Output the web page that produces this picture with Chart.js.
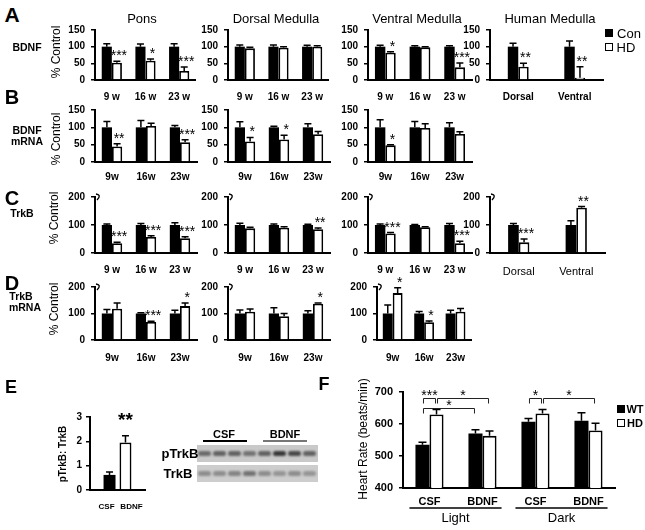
<!DOCTYPE html>
<html><head><meta charset="utf-8">
<script src="https://cdn.jsdelivr.net/npm/chart.js@4"></script>
<style>
html,body{margin:0;padding:0;background:#fff;}
body{width:645px;height:530px;position:relative;overflow:hidden;font-family:"Liberation Sans",Arial,sans-serif;}
.t{position:absolute;white-space:nowrap;color:#000;line-height:1;}
canvas{position:absolute;}
.sq{position:absolute;box-sizing:border-box;border:1.5px solid #000;}
</style></head><body>
<script>
// ---------- DATA ----------
const weeksSp = ['9 w','16 w','23 w'];
const weeksNs = ['9w','16w','23w'];
const humanRegions = ['Dorsal','Ventral'];
const seriesNames = ['Con','HD'];

// A: BDNF protein (% control)
const aPonsCon=[100,100,100], aPonsConErr=[9,8,9], aPonsHd=[52,58,27], aPonsHdErr=[4,5,12], aPonsSig=['***','*','***'];
const aDorsCon=[100,100,100], aDorsConErr=[5,5,4], aDorsHd=[95,97,100], aDorsHdErr=[3,3,3], aDorsSig=['','',''];
const aVentCon=[100,100,100], aVentConErr=[4,3,3], aVentHd=[82,98,38], aVentHdErr=[3,2,13], aVentSig=['*','','***'];
const aHumCon=[100,100], aHumConErr=[10,17], aHumHd=[40,7], aHumHdErr=[10,33], aHumSig=['**','**'];
// B: BDNF mRNA
const bPonsCon=[100,100,100], bPonsConErr=[17,20,5], bPonsHd=[45,104,57], bPonsHdErr=[8,8,7], bPonsSig=['**','','***'];
const bDorsCon=[100,100,100], bDorsConErr=[16,3,10], bDorsHd=[59,65,80], bDorsHdErr=[12,12,8], bDorsSig=['*','*',''];
const bVentCon=[100,100,100], bVentConErr=[22,17,13], bVentHd=[48,98,81], bVentHdErr=[2,12,6], bVentSig=['*','',''];
// C: TrkB protein
const cPonsCon=[100,100,100], cPonsConErr=[4,5,8], cPonsHd=[35,57,53], cPonsHdErr=[3,5,5], cPonsSig=['***','***','***'];
const cDorsCon=[100,100,100], cDorsConErr=[6,4,3], cDorsHd=[88,90,85], cDorsHdErr=[4,4,4], cDorsSig=['','','**'];
const cVentCon=[100,100,100], cVentConErr=[4,2,5], cVentHd=[70,92,35], cVentHdErr=[3,2,7], cVentSig=['***','','***'];
const cHumCon=[100,100], cHumConErr=[5,15], cHumHd=[38,162], cHumHdErr=[12,4], cHumSig=['***','**'];
// D: TrkB mRNA
const dPonsCon=[100,100,100], dPonsConErr=[15,3,12], dPonsHd=[118,68,128], dPonsHdErr=[22,3,12], dPonsSig=['','***','*'];
const dDorsCon=[100,100,100], dDorsConErr=[13,22,10], dDorsHd=[107,90,137], dDorsHdErr=[10,10,3], dDorsSig=['','','*'];
const dVentCon=[100,100,100], dVentConErr=[32,8,12], dVentHd=[177,67,107], dVentHdErr=[20,5,12], dVentSig=['*','*',''];
// E: pTrkB:TrkB ratio
const eGroups=['CSF','BDNF'];
const eRatio=[0.62,1.95], eRatioErr=[0.12,0.28], eSig=['','**'];
// Blot band intensities (0..1) per lane
const blotP=[0.55,0.6,0.6,0.5,0.6,0.85,0.75,0.6];
const blotT=[0.35,0.35,0.4,0.5,0.35,0.3,0.35,0.3];
// F: heart rate
const fConds=['CSF','BDNF','CSF','BDNF'];
const fPhases=['Light','Dark'];
const fGroups=['WT','HD'];
const fWT=[535,570,607,610], fWTErr=[8,12,10,25];
const fHD=[630,563,633,580], fHDErr=[15,15,12,22];
const fBrackets=[
  {a:[0,0], b:[0,1], level:681, text:'***'},
  {a:[0,1], b:[1,1], level:681, text:'*'},
  {a:[0,0], b:[1,0], level:650, text:'*'},
  {a:[2,0], b:[2,1], level:681, text:'*'},
  {a:[2,1], b:[3,1], level:681, text:'*'}
];

// ---------- HELPERS ----------
const FF='"Liberation Sans", Arial, sans-serif';
Chart.defaults.font.family=FF;
Chart.defaults.color='#000';

function txt(s,x,y,css,rot){
  const d=document.createElement('div');
  d.className='t'; d.textContent=s;
  d.style.left=x+'px'; d.style.top=y+'px';
  d.style.transform='translate(-50%,-50%)'+(rot?' rotate(-90deg)':'');
  d.style.cssText+=css||'';
  document.body.appendChild(d);
}
function sq(x,y,fill){
  const d=document.createElement('div'); d.className='sq';
  d.style.left=x+'px'; d.style.top=y+'px'; d.style.width='8px'; d.style.height='8px';
  d.style.background=fill; document.body.appendChild(d);
}

const errPlugin={
  id:'errbars',
  afterDatasetsDraw(chart,args,o){
    const ctx=chart.ctx, ys=chart.scales.y, ca=chart.chartArea;
    ctx.save();
    ctx.strokeStyle='#000'; ctx.lineWidth=o.lw||1.5;
    chart.data.datasets.forEach((ds,di)=>{
      const meta=chart.getDatasetMeta(di);
      meta.data.forEach((bar,i)=>{
        const v=ds.data[i], e=ds.err[i];
        const y0=ys.getPixelForValue(v), y1=ys.getPixelForValue(v+e);
        const cw=o.cap||3.5;
        ctx.beginPath();
        ctx.moveTo(bar.x,y0); ctx.lineTo(bar.x,y1);
        ctx.moveTo(bar.x-cw,y1); ctx.lineTo(bar.x+cw,y1);
        ctx.stroke();
      });
    });
    // significance stars over HD bars
    if(o.stars){
      const di=o.starDs===undefined?1:o.starDs;
      const meta=chart.getDatasetMeta(di), ds=chart.data.datasets[di];
      ctx.fillStyle='#000'; ctx.font=(o.starFont||'14px '+FF);
      ctx.textAlign='center'; ctx.textBaseline='alphabetic';
      o.stars.forEach((s,i)=>{
        if(!s) return;
        let bar, v, e;
        if(o.starPerDataset){ const m=chart.getDatasetMeta(i); bar=m.data[0]; v=chart.data.datasets[i].data[0]; e=chart.data.datasets[i].err[0]; }
        else { bar=meta.data[i]; v=ds.data[i]; e=ds.err[i]; }
        const y=ys.getPixelForValue(v+e);
        ctx.fillText(s,bar.x+(o.starDx===undefined?2:o.starDx),y-1+(o.starDy||0));
      });
    }
    if(o.yBreak){
      ctx.lineWidth=1.3;
      ctx.beginPath();
      ctx.moveTo(ca.left+1,ca.top-3);
      ctx.quadraticCurveTo(ca.left+7,ca.top-2,ca.left+2,ca.top+3);
      ctx.stroke();
    }
    if(o.catLabels){
      ctx.fillStyle='#000'; ctx.font=o.catFont; ctx.textAlign='center'; ctx.textBaseline='middle';
      o.catLabels.forEach((s,i)=>{
        const bar=chart.getDatasetMeta(i).data[0];
        ctx.fillText(s,bar.x+(o.catDx?o.catDx[i]:0),ca.bottom+o.catDy);
      });
    }
    ctx.restore();
  }
};

function makeCanvas(rect,pad){
  const [l,t,r,b]=rect;
  const cv=document.createElement('canvas');
  cv.width=r-l+pad.l+pad.r; cv.height=b-t+pad.t+pad.b;
  cv.style.left=(l-pad.l)+'px'; cv.style.top=(t-pad.t)+'px';
  document.body.appendChild(cv);
  return cv;
}

function barPanel(o){
  const pad={l:40,r:6,t:14,b:30};
  const cv=makeCanvas(o.rect,pad);
  new Chart(cv,{
    type:'bar',
    data:{labels:o.labels,datasets:[
      {label:seriesNames[0],data:o.con,err:o.conErr,backgroundColor:'#000',borderColor:'#000',borderWidth:0,categoryPercentage:o.cat||0.6,barPercentage:1},
      {label:seriesNames[1],data:o.hd,err:o.hdErr,backgroundColor:'#fff',borderColor:'#000',borderWidth:1.8,categoryPercentage:o.cat||0.6,barPercentage:1}
    ]},
    options:{
      responsive:false,animation:false,
      layout:{padding:{top:pad.t,right:pad.r,left:0,bottom:0}},
      plugins:{legend:{display:false},tooltip:{enabled:false},
        errbars:{stars:o.sig,yBreak:o.yBreak}},
      scales:{
        x:{grid:{display:false,drawTicks:false},border:{display:true,color:'#000',width:2},
           ticks:{color:'#000',font:o.xFont||{size:10,weight:'bold'},padding:o.xPad,maxRotation:0,autoSkip:false},
           afterFit(s){s.height=pad.b;}},
        y:{min:0,max:o.yMax,
           ticks:{stepSize:o.yStep,color:'#000',font:{size:10,weight:'bold'},padding:6},
           grid:{display:true,drawOnChartArea:false,drawTicks:true,tickLength:4,color:'#000',lineWidth:1.5},
           border:{display:true,color:'#000',width:2},
           afterFit(s){s.width=pad.l;}}
      }
    },
    plugins:[errPlugin]
  });
}

// ---------- PANELS A-D ----------
// Row A
barPanel({rect:[95,30,196,80],yMax:150,yStep:50,labels:weeksSp,xPad:11,con:aPonsCon,conErr:aPonsConErr,hd:aPonsHd,hdErr:aPonsHdErr,sig:aPonsSig});
barPanel({rect:[228,30,329,80],yMax:150,yStep:50,labels:weeksSp,xPad:11,con:aDorsCon,conErr:aDorsConErr,hd:aDorsHd,hdErr:aDorsHdErr,sig:aDorsSig});
barPanel({rect:[368,30,472,80],yMax:150,yStep:50,labels:weeksSp,xPad:11,con:aVentCon,conErr:aVentConErr,hd:aVentHd,hdErr:aVentHdErr,sig:aVentSig});
barPanel({rect:[490,30,603,80],yMax:150,yStep:50,labels:humanRegions,xPad:11,cat:0.37,con:aHumCon,conErr:aHumConErr,hd:aHumHd,hdErr:aHumHdErr,sig:aHumSig});
// Row B
barPanel({rect:[95,110,197,162],yMax:150,yStep:50,labels:weeksNs,xPad:9,con:bPonsCon,conErr:bPonsConErr,hd:bPonsHd,hdErr:bPonsHdErr,sig:bPonsSig});
barPanel({rect:[228,110,330,162],yMax:150,yStep:50,labels:weeksNs,xPad:9,con:bDorsCon,conErr:bDorsConErr,hd:bDorsHd,hdErr:bDorsHdErr,sig:bDorsSig});
barPanel({rect:[368,110,472,162],yMax:150,yStep:50,labels:weeksNs,xPad:9,con:bVentCon,conErr:bVentConErr,hd:bVentHd,hdErr:bVentHdErr,sig:bVentSig});
// Row C
barPanel({rect:[95,197,197,253],yMax:200,yStep:100,yBreak:true,labels:weeksSp,xPad:11,con:cPonsCon,conErr:cPonsConErr,hd:cPonsHd,hdErr:cPonsHdErr,sig:cPonsSig});
barPanel({rect:[228,197,330,253],yMax:200,yStep:100,yBreak:true,labels:weeksSp,xPad:11,con:cDorsCon,conErr:cDorsConErr,hd:cDorsHd,hdErr:cDorsHdErr,sig:cDorsSig});
barPanel({rect:[368,197,472,253],yMax:200,yStep:100,yBreak:true,labels:weeksSp,xPad:11,con:cVentCon,conErr:cVentConErr,hd:cVentHd,hdErr:cVentHdErr,sig:cVentSig});
barPanel({rect:[490,197,605,253],yMax:200,yStep:100,yBreak:true,labels:humanRegions,xPad:12,xFont:{size:11},cat:0.37,con:cHumCon,conErr:cHumConErr,hd:cHumHd,hdErr:cHumHdErr,sig:cHumSig});
// Row D
barPanel({rect:[95,287,197,340],yMax:200,yStep:100,yBreak:true,labels:weeksNs,xPad:12,con:dPonsCon,conErr:dPonsConErr,hd:dPonsHd,hdErr:dPonsHdErr,sig:dPonsSig});
barPanel({rect:[228,287,330,340],yMax:200,yStep:100,yBreak:true,labels:weeksNs,xPad:12,con:dDorsCon,conErr:dDorsConErr,hd:dDorsHd,hdErr:dDorsHdErr,sig:dDorsSig});
barPanel({rect:[377,287,472,340],yMax:200,yStep:100,yBreak:true,labels:weeksNs,xPad:12,cat:0.63,con:dVentCon,conErr:dVentConErr,hd:dVentHd,hdErr:dVentHdErr,sig:dVentSig});

// ---------- PANEL E ----------
(function(){
  const pad={l:40,r:6,t:14,b:26};
  const cv=makeCanvas([90,417,145,490],pad);
  new Chart(cv,{
    type:'bar',
    data:{labels:[''],datasets:eGroups.map((g,i)=>({
      label:g,data:[eRatio[i]],err:[eRatioErr[i]],
      backgroundColor:i===0?'#000':'#fff',borderColor:'#000',borderWidth:i===0?0:1.8,
      categoryPercentage:0.58,barPercentage:0.75}))},
    options:{
      responsive:false,animation:false,
      layout:{padding:{top:pad.t,right:pad.r,left:0,bottom:0}},
      plugins:{legend:{display:false},tooltip:{enabled:false},
        errbars:{stars:eSig,starPerDataset:true,starFont:'bold 19px '+FF,starDy:-9,starDx:0,
                 catLabels:eGroups,catFont:'bold 8px '+FF,catDy:17,catDx:[-3,6]}},
      scales:{
        x:{grid:{display:false,drawTicks:false},border:{display:true,color:'#000',width:2},
           ticks:{display:false},afterFit(s){s.height=pad.b;}},
        y:{min:0,max:3,ticks:{stepSize:1,color:'#000',font:{size:10,weight:'bold'},padding:4},
           grid:{display:true,drawOnChartArea:false,drawTicks:true,tickLength:4,color:'#000',lineWidth:1.5},
           border:{display:true,color:'#000',width:2},afterFit(s){s.width=pad.l;}}
      }
    },
    plugins:[errPlugin]
  });
})();

// ---------- PANEL F ----------
const bracketPlugin={
  id:'brackets',
  afterDatasetsDraw(chart,args,o){
    const ctx=chart.ctx, ys=chart.scales.y, ca=chart.chartArea;
    ctx.save();
    ctx.strokeStyle='#222'; ctx.lineWidth=1; ctx.fillStyle='#000';
    ctx.font='14px '+FF; ctx.textAlign='center'; ctx.textBaseline='middle';
    o.list.forEach(bk=>{
      const A=chart.getDatasetMeta(bk.a[1]).data[bk.a[0]];
      const B=chart.getDatasetMeta(bk.b[1]).data[bk.b[0]];
      const y=Math.round(ys.getPixelForValue(bk.level))+0.5;
      const x1=A.x+1, x2=B.x-1;
      ctx.beginPath();
      ctx.moveTo(x1,y+5); ctx.lineTo(x1,y); ctx.lineTo(x2,y); ctx.lineTo(x2,y+5);
      ctx.stroke();
      ctx.fillText(bk.text,(x1+x2)/2,y-2);
    });
    // group underlines + phase labels
    ctx.lineWidth=1.5; ctx.strokeStyle='#000';
    ctx.font='13px '+FF; ctx.textBaseline='middle';
    o.phases.forEach((p,i)=>{
      const L=chart.getDatasetMeta(0).data[2*i], R=chart.getDatasetMeta(1).data[2*i+1];
      const x1=L.x-L.width/2-6, x2=R.x+R.width/2+5;
      const y=ca.bottom+20;
      ctx.beginPath(); ctx.moveTo(x1,y); ctx.lineTo(x2,y); ctx.stroke();
      ctx.fillText(p,(x1+x2)/2,ca.bottom+30);
    });
    ctx.restore();
  }
};
(function(){
  const pad={l:45,r:4,t:14,b:42};
  const cv=makeCanvas([403,392,615,488],pad);
  new Chart(cv,{
    type:'bar',
    data:{labels:fConds,datasets:[
      {label:fGroups[0],data:fWT,err:fWTErr,backgroundColor:'#000',borderColor:'#000',borderWidth:0,categoryPercentage:0.53,barPercentage:1},
      {label:fGroups[1],data:fHD,err:fHDErr,backgroundColor:'#fff',borderColor:'#000',borderWidth:1.8,categoryPercentage:0.53,barPercentage:1}
    ]},
    options:{
      responsive:false,animation:false,
      layout:{padding:{top:pad.t,right:pad.r,left:0,bottom:0}},
      plugins:{legend:{display:false},tooltip:{enabled:false},
        errbars:{cap:4},
        brackets:{list:fBrackets,phases:fPhases}},
      scales:{
        x:{grid:{display:false,drawTicks:false},border:{display:true,color:'#000',width:2},
           ticks:{color:'#000',font:{size:11,weight:'bold'},padding:7,maxRotation:0,autoSkip:false},
           afterFit(s){s.height=pad.b;}},
        y:{min:400,max:700,ticks:{stepSize:100,color:'#000',font:{size:11,weight:'bold'},padding:6},
           grid:{display:true,drawOnChartArea:false,drawTicks:true,tickLength:4,color:'#000',lineWidth:1.5},
           border:{display:true,color:'#000',width:2},afterFit(s){s.width=pad.l;}}
      }
    },
    plugins:[errPlugin,bracketPlugin]
  });
})();

// ---------- TEXT ----------
const bold='font-weight:bold;';
// panel letters
txt('A',12,14,bold+'font-size:21px;');
txt('B',12,97,bold+'font-size:20px;');
txt('C',12,198,bold+'font-size:20px;');
txt('D',12,283,bold+'font-size:20px;');
txt('E',11,387,bold+'font-size:18px;');
txt('F',324,384,bold+'font-size:18px;');
// titles
txt('Pons',142,18,'font-size:13px;');
txt('Dorsal Medulla',276,18,'font-size:13px;');
txt('Ventral Medulla',417,18,'font-size:13px;');
txt('Human Medulla',550,18,'font-size:13px;');
// row labels
txt('BDNF',27,47,bold+'font-size:10.5px;');
txt('BDNF',27,130,bold+'font-size:10.5px;');
txt('mRNA',27,141,bold+'font-size:10.5px;');
txt('TrkB',22,213,bold+'font-size:10.5px;');
txt('TrkB',21,296,bold+'font-size:10.5px;');
txt('mRNA',25,307,bold+'font-size:10.5px;');
// y titles
txt('% Control',56,52,'font-size:12px;',true);
txt('% Control',56,139,'font-size:12px;',true);
txt('% Control',54,218,'font-size:12px;',true);
txt('% Control',54,309,'font-size:12px;',true);
txt('pTrkB: TrkB',63,454,bold+'font-size:10px;',true);
txt('Heart Rate (beats/min)',363,439,'font-size:12px;',true);
// legend A
sq(605,29,'#000'); txt(seriesNames[0],629,33,'font-size:13px;');
sq(605,43,'#fff'); txt(seriesNames[1],626,47,'font-size:13px;');
// legend F
sq(617,405,'#000'); txt(fGroups[0],635,409,bold+'font-size:11px;');
sq(617,419,'#fff'); txt(fGroups[1],635,423,bold+'font-size:11px;');

// ---------- WESTERN BLOT (image stand-in) ----------
(function(){
  function strip(y,h,bands,base){
    const s=document.createElement('div');
    s.style.cssText=`position:absolute;left:197px;top:${y}px;width:121px;height:${h}px;background:${base};`;
    document.body.appendChild(s);
    bands.forEach((a,i)=>{
      const b=document.createElement('div');
      const g=Math.round(200-a*170);
      b.style.cssText=`position:absolute;left:${1+i*15}px;top:${h/2-2.5}px;width:13px;height:5px;border-radius:3px;background:rgb(${g},${g},${g});filter:blur(0.8px);`;
      s.appendChild(b);
    });
  }
  strip(445,17,blotP,'#c9c9c9');
  strip(465,17,blotT,'#cdcdcd');
  txt('pTrkB',180,453,bold+'font-size:13px;');
  txt('TrkB',178,473,bold+'font-size:13px;');
  txt(eGroups[0],224,434,bold+'font-size:11px;');
  txt(eGroups[1],285,434,bold+'font-size:11px;');
  const l1=document.createElement('div'); l1.style.cssText='position:absolute;left:203px;top:440px;width:44px;height:1.5px;background:#000;'; document.body.appendChild(l1);
  const l2=document.createElement('div'); l2.style.cssText='position:absolute;left:263px;top:440px;width:44px;height:1.5px;background:#777;'; document.body.appendChild(l2);
})();
</script>
</body></html>
